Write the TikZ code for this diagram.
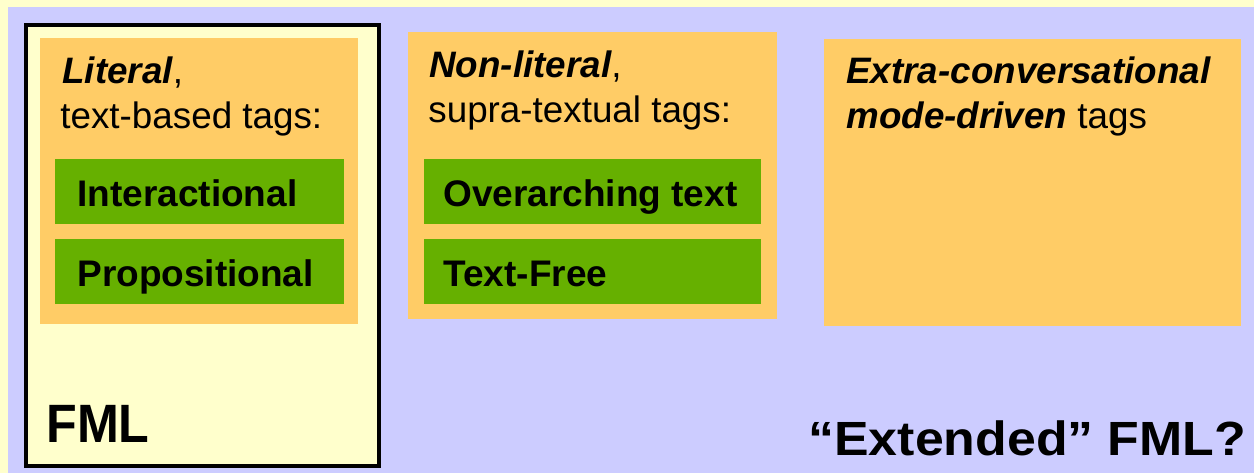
\documentclass[tikz,border=0pt]{standalone}
\usepackage{fontspec}
\setmainfont{Liberation Sans}
\usepackage{tikz}

\definecolor{lavender}{RGB}{204,204,255}
\definecolor{paleyellow}{RGB}{255,255,204}
\definecolor{tagorange}{RGB}{255,204,102}
\definecolor{taggreen}{RGB}{102,176,0}

\tikzset{
  tagbox/.style={fill=tagorange, draw=none, inner sep=0pt, anchor=north west},
  greenbox/.style={fill=taggreen, draw=none, inner sep=0pt, anchor=north west, minimum height=32.5pt},
  headtext/.style={inner sep=0pt, anchor=base west, font=\fontsize{18.4}{22}\selectfont},
  greentext/.style={inner sep=0pt, anchor=base west, font=\fontsize{18.5}{22}\selectfont\bfseries}
}

\begin{document}
\begin{tikzpicture}[x=0.5pt,y=0.5pt]
\useasboundingbox (0,0) rectangle (1254,473);
\fill[lavender] (0,0) rectangle (1254,473);
\fill[paleyellow] (0,466) rectangle (1254,473);
\fill[paleyellow] (0,0) rectangle (8,473);

\node[draw=black, line width=2.3pt, fill=paleyellow, inner sep=0pt, anchor=north west,
  minimum width=176.5pt, minimum height=220.5pt] (fml) at (23.5,450.5) {};

\node[tagbox, minimum width=159pt, minimum height=143pt] (literal) at (40,435) {};
\node[tagbox, minimum width=184.5pt, minimum height=143.5pt] (nonliteral) at (408,441) {};
\node[tagbox, minimum width=208.5pt, minimum height=143.5pt] (extra) at (824,434) {};

\node[greenbox, minimum width=144.5pt] (interact) at (55,314) {};
\node[greenbox, minimum width=144.5pt] (propos) at (55,234) {};
\node[greenbox, minimum width=168.5pt] (overarch) at (424,314) {};
\node[greenbox, minimum width=168.5pt] (textfree) at (424,234) {};

\node[headtext] (literal1) at (62,390) {{\bfseries\itshape Literal},};
\node[headtext] (literal2) at (60,345) {text-based tags:};
\node[headtext] (nonlit1) at (429,396) {{\bfseries\itshape Non-literal},};
\node[headtext] (nonlit2) at (428,351) {supra-textual tags:};
\node[headtext] (extra1) at (846,390) {{\bfseries\itshape Extra-conversational}};
\node[headtext] (extra2) at (846,345) {{\bfseries\itshape mode-driven} tags};

\node[greentext] (interactlabel) at (77,267) {Interactional};
\node[greentext] (proposlabel) at (77,187) {Propositional};
\node[greentext] (overarchlabel) at (443,267) {Overarching text};
\node[greentext] (textfreelabel) at (443,187) {Text-Free};

\node[inner sep=0pt, anchor=base west, transform shape, xscale=0.93,
  font=\fontsize{27}{32}\selectfont\bfseries] (fmllabel) at (46,31) {FML};
\node[inner sep=0pt, anchor=base west, transform shape, xscale=1.08,
  font=\fontsize{24}{28}\selectfont\bfseries] (extlabel) at (808,18) {“Extended” FML?};
\end{tikzpicture}
\end{document}
